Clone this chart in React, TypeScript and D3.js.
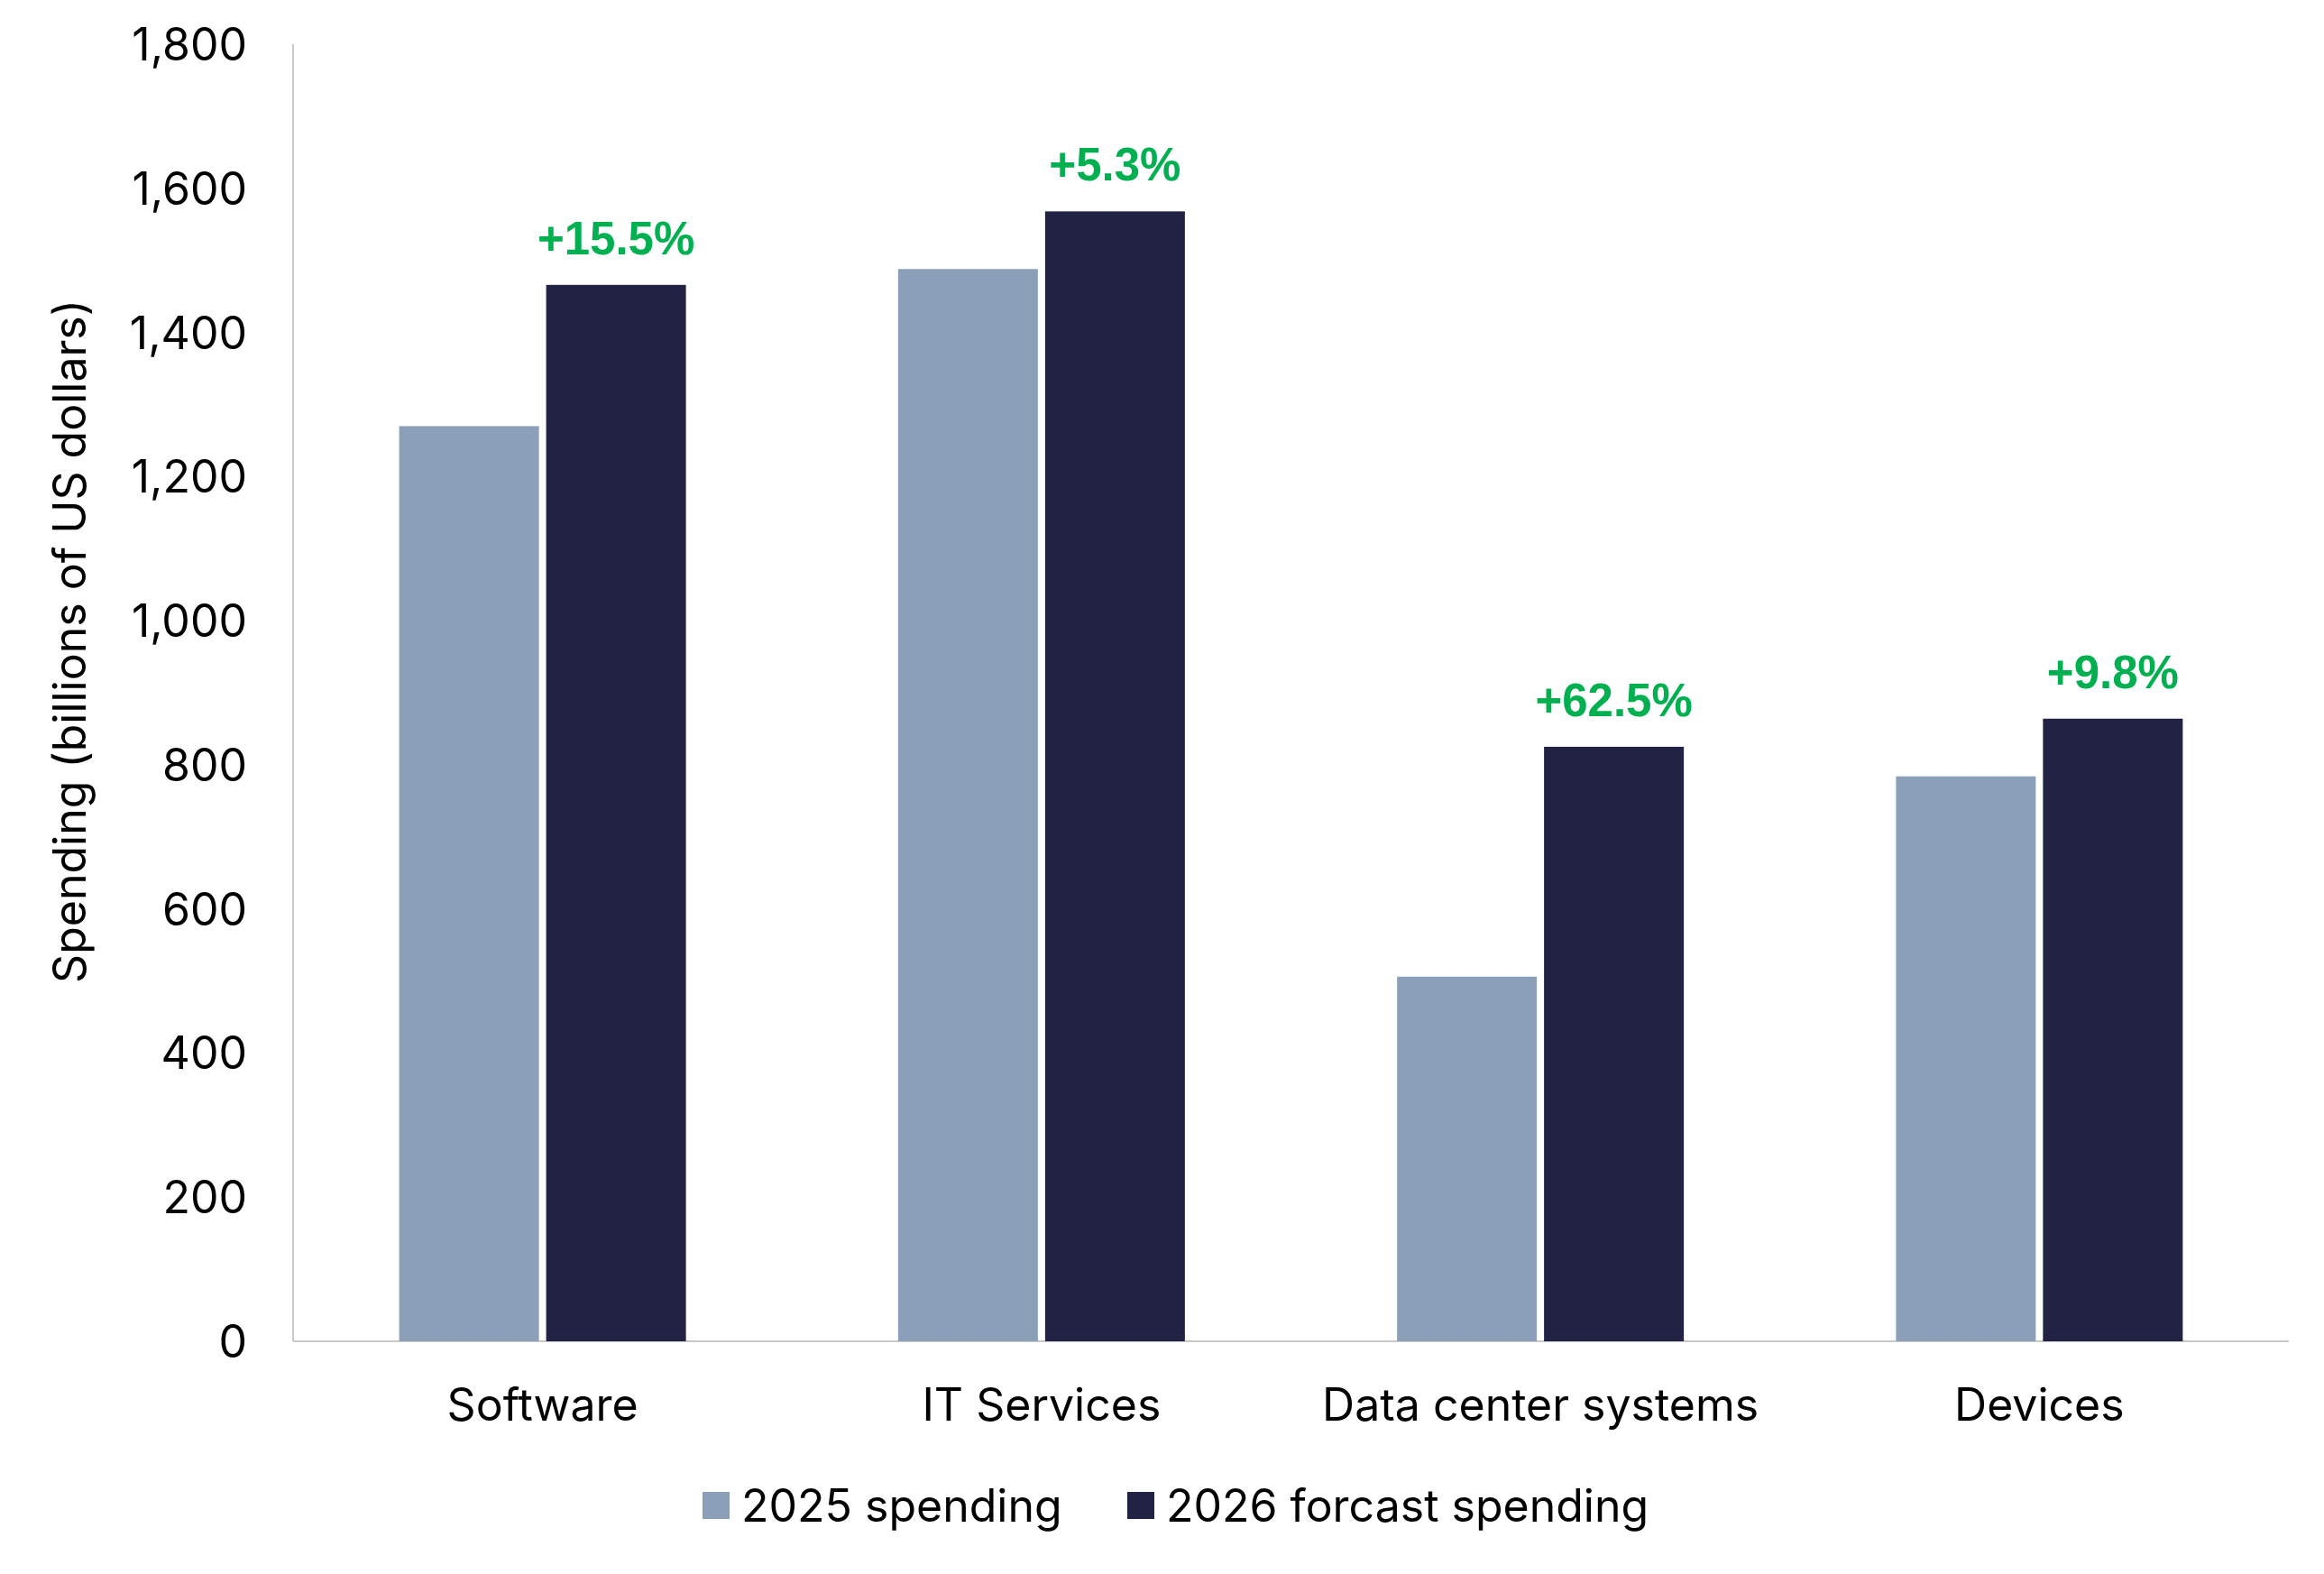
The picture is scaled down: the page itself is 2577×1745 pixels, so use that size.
import React, { useEffect } from "react";
import * as d3 from "d3";

const categories = ["Software", "IT Services", "Data center systems", "Devices"];
const seriesNames = ["2025 spending", "2026 forcast spending"];
const spending2025 = [1270, 1488, 506, 784];
const spending2026 = [1466, 1568, 825, 864];
const growthLabels = ["+15.5%", "+5.3%", "+62.5%", "+9.8%"];
const yTicks = [0, 200, 400, 600, 800, 1000, 1200, 1400, 1600, 1800];

const W = 2577;
const H = 1745;
const FONT = "Inter, 'Open Sans', sans-serif";
const LABEL_FONT = "'Liberation Sans', Arial, sans-serif";
const colors = ["#8BA0B8", "#222244"];

export default function App() {
  useEffect(() => {
    document.body.style.margin = "0";
  }, []);

  const left = 325;
  const right = 2538;
  const top = 49;
  const bottom = 1487;

  const x = d3.scaleBand<string>().domain(categories).range([left, right]).padding(0);
  const groupW = 318;
  const xInner = d3
    .scaleBand<string>()
    .domain(seriesNames)
    .range([0, groupW])
    .paddingInner(8 / 163)
    .paddingOuter(0);
  const y = d3.scaleLinear().domain([0, 1800]).range([bottom, top]);
  const fmt = d3.format(",");
  const data = [spending2025, spending2026];

  return (
    <svg
      width={W}
      height={H}
      style={{ position: "absolute", left: 0, top: 0, background: "#fff" }}
      fontFamily={FONT}
    >
      <rect x={0} y={0} width={W} height={H} fill="#fff" />
      <line x1={left} x2={left} y1={top} y2={bottom} stroke="#C8C8C8" strokeWidth={2} />
      <line x1={left} x2={right} y1={bottom} y2={bottom} stroke="#C8C8C8" strokeWidth={2} />

      {yTicks.map((t) => (
        <text
          key={t}
          x={274}
          y={y(t)}
          textAnchor="end"
          dominantBaseline="central"
          fontSize={50}
          fill="#000"
        >
          {fmt(t)}
        </text>
      ))}

      <text
        transform={`translate(77, 711) rotate(-90)`}
        textAnchor="middle"
        dominantBaseline="central"
        fontSize={50}
        fill="#000"
      >
        Spending (billions of US dollars)
      </text>

      {categories.map((c, i) => {
        const gx = (x(c) as number) + (x.bandwidth() - groupW) / 2;
        return (
          <g key={c}>
            {seriesNames.map((s, si) => {
              const v = data[si][i];
              return (
                <rect
                  key={s}
                  x={gx + (xInner(s) as number)}
                  y={y(v)}
                  width={xInner.bandwidth()}
                  height={bottom - y(v)}
                  fill={colors[si]}
                />
              );
            })}
            <text
              x={gx + (xInner(seriesNames[1]) as number) + xInner.bandwidth() / 2}
              y={y(spending2026[i]) - 34}
              textAnchor="middle"
              fontSize={51}
              fontWeight={700}
              fontFamily={LABEL_FONT}
              fill="#00B050"
            >
              {growthLabels[i]}
            </text>
            <text
              x={(x(c) as number) + x.bandwidth() / 2}
              y={1557}
              textAnchor="middle"
              dominantBaseline="central"
              fontSize={50}
              fill="#000"
            >
              {c}
            </text>
          </g>
        );
      })}

      {seriesNames.map((s, si) => {
        const lx = [779, 1250][si];
        return (
          <g key={s}>
            <rect x={lx} y={1654} width={30} height={30} fill={colors[si]} />
            <text x={lx + 43} y={1669} dominantBaseline="central" fontSize={50} fill="#000">
              {s}
            </text>
          </g>
        );
      })}
    </svg>
  );
}
